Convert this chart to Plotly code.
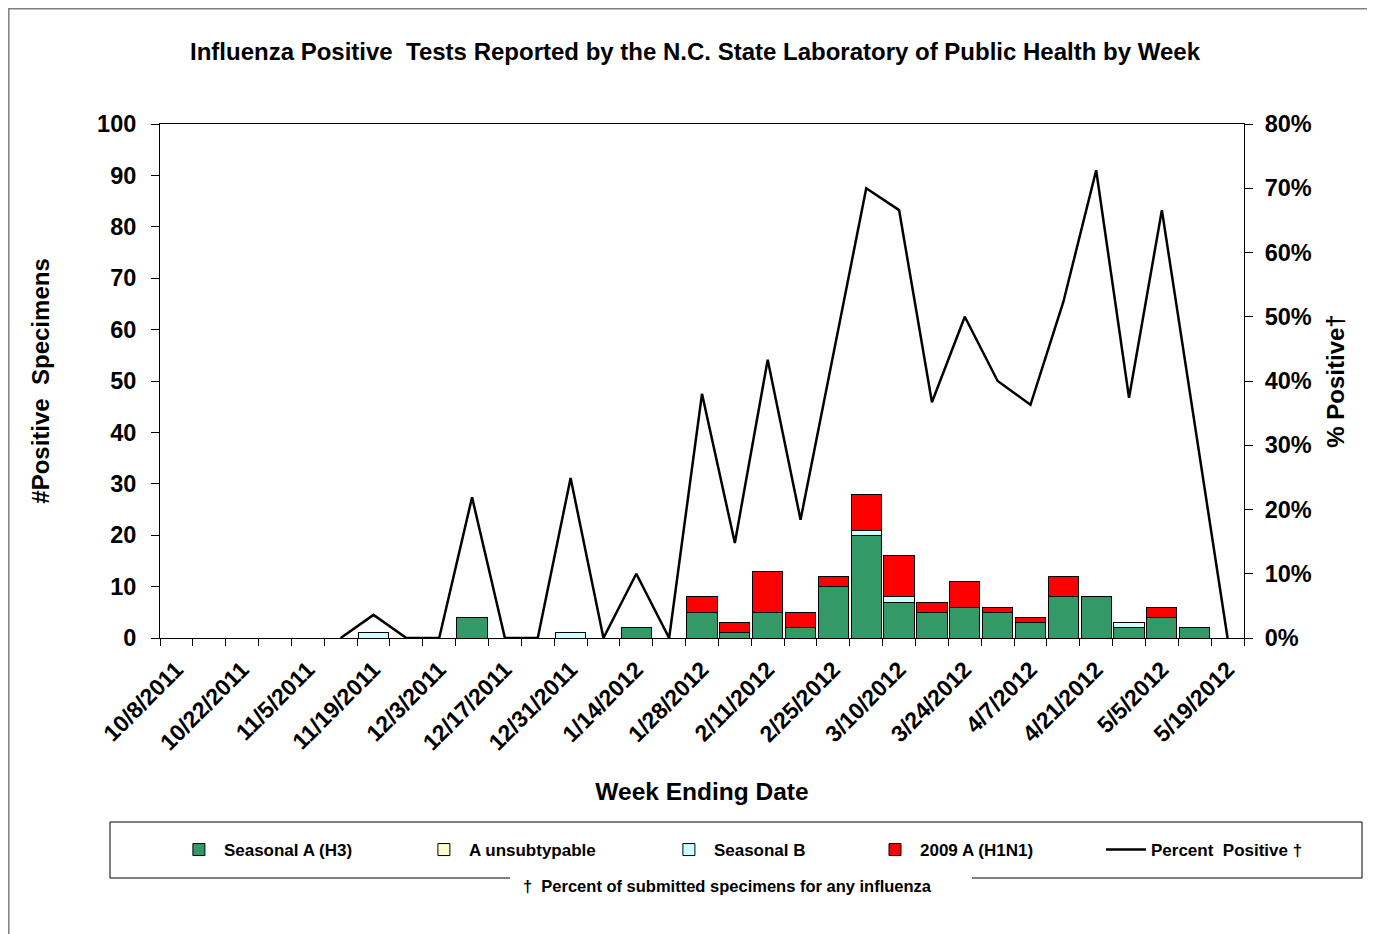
import plotly.graph_objects as go

weeks = ["10/8/2011", "10/15/2011", "10/22/2011", "10/29/2011", "11/5/2011", "11/12/2011",
         "11/19/2011", "11/26/2011", "12/3/2011", "12/10/2011", "12/17/2011", "12/24/2011",
         "12/31/2011", "1/7/2012", "1/14/2012", "1/21/2012", "1/28/2012", "2/4/2012",
         "2/11/2012", "2/18/2012", "2/25/2012", "3/3/2012", "3/10/2012", "3/17/2012",
         "3/24/2012", "3/31/2012", "4/7/2012", "4/14/2012", "4/21/2012", "4/28/2012",
         "5/5/2012", "5/12/2012", "5/19/2012"]

seasonal_a_h3 = [0, 0, 0, 0, 0, 0, 0, 0, 0, 4, 0, 0, 0, 0, 2, 0, 5, 1, 5, 2, 10, 20, 7, 5, 6, 5, 3, 8, 8, 2, 4, 2, 0]
a_unsubtypable = [0] * 33
seasonal_b = [0, 0, 0, 0, 0, 0, 1, 0, 0, 0, 0, 0, 1, 0, 0, 0, 0, 0, 0, 0, 0, 1, 1, 0, 0, 0, 0, 0, 0, 1, 0, 0, 0]
h1n1_2009 = [0, 0, 0, 0, 0, 0, 0, 0, 0, 0, 0, 0, 0, 0, 0, 0, 3, 2, 8, 3, 2, 7, 8, 2, 5, 1, 1, 4, 0, 0, 2, 0, 0]
pct_positive = [None, None, None, None, None, 0, 3.6, 0, 0, 21.9, 0, 0, 24.9, 0, 10.0, 0, 38.0, 14.8,
                43.3, 18.4, 44.0, 70.0, 66.6, 36.7, 50.0, 40.0, 36.3, 52.3, 72.8, 37.4, 66.6, 33.0, 0]

xi = list(range(len(weeks)))
FONT = "Liberation Sans, Arial, sans-serif"

fig = go.Figure()
bar_series = [
    ("Seasonal A (H3)", seasonal_a_h3, "#339966", "legend"),
    ("A unsubtypable", a_unsubtypable, "#FFFFCC", "legend"),
    ("Seasonal B", seasonal_b, "#CCFFFF", "legend"),
    ("2009 A (H1N1)", h1n1_2009, "#FF0000", "legend2"),
]
for name, vals, col, leg in bar_series:
    fig.add_trace(go.Bar(x=xi, y=vals, name=name, marker=dict(color=col, line=dict(color="black", width=1)),
                         yaxis="y", legend=leg))
fig.add_trace(go.Scatter(x=xi, y=pct_positive, name="Percent  Positive †", mode="lines",
                         line=dict(color="black", width=2.5), yaxis="y2", legend="legend2"))

W, H = 1375, 934
OFF = 8  # page body margin offset
# plot area in page pixels
L, R, T, B = 160, 1244, 124, 638
def px(x):
    return (x - L) / (R - L)
def py(y):
    return (B - y) / (B - T)

shapes = [
    dict(type="rect", xref="paper", yref="paper", x0=px(8.8), x1=px(1372), y0=py(945), y1=py(8.8),
         line=dict(color="#808080", width=1.5)),
    dict(type="line", xref="paper", yref="paper", x0=px(110), x1=px(1362), y0=py(822), y1=py(822), line=dict(color="black", width=1)),
    dict(type="line", xref="paper", yref="paper", x0=px(110), x1=px(110), y0=py(822), y1=py(878), line=dict(color="black", width=1)),
    dict(type="line", xref="paper", yref="paper", x0=px(1362), x1=px(1362), y0=py(822), y1=py(878), line=dict(color="black", width=1)),
    dict(type="line", xref="paper", yref="paper", x0=px(110), x1=px(510), y0=py(878), y1=py(878), line=dict(color="black", width=1)),
    dict(type="line", xref="paper", yref="paper", x0=px(972), x1=px(1362), y0=py(878), y1=py(878), line=dict(color="black", width=1)),
]

annotations = [
    dict(text="†  Percent of submitted specimens for any influenza", xref="paper", yref="paper",
         x=px(727), y=py(886), showarrow=False, xanchor="center", yanchor="middle",
         font=dict(family=FONT, size=16.5, color="black", weight="bold")),
]

legend_font = dict(family=FONT, size=17, color="black", weight="bold")

fig.update_layout(
    width=W, height=H,
    margin=dict(l=L - OFF, r=W - (R - OFF), t=T - OFF, b=H - (B - OFF)),
    paper_bgcolor="white", plot_bgcolor="white",
    barmode="stack", bargap=0.08,
    title=dict(text="Influenza Positive  Tests Reported by the N.C. State Laboratory of Public Health by Week",
               x=(695 - OFF) / W, xanchor="center", y=1 - (52 - OFF) / H, yanchor="middle",
               font=dict(family=FONT, size=24, color="black", weight="bold")),
    xaxis=dict(range=[-0.5, len(weeks) - 0.5], tickmode="array", tickvals=xi[::2], ticktext=weeks[::2],
               tickangle=-45, ticks="", showgrid=False, zeroline=False, showline=True, linecolor="black",
               linewidth=1, mirror=True, ticklabelstandoff=8,
               minor=dict(tickmode="array", tickvals=[i - 0.5 for i in range(len(weeks) + 1)], ticks="outside",
                          ticklen=7, tickcolor="black", tickwidth=1, showgrid=False),
               tickfont=dict(family=FONT, size=23, color="black", weight="bold"),
               title=dict(text="Week Ending Date", standoff=28,
                          font=dict(family=FONT, size=24.5, color="black", weight="bold"))),
    yaxis=dict(range=[0, 100], dtick=10, ticks="outside", ticklen=8, tickcolor="black", showgrid=False,
               zeroline=False, showline=True, linecolor="black", linewidth=1, ticklabelstandoff=10,
               tickfont=dict(family=FONT, size=23.5, color="black", weight="bold"),
               title=dict(text="#Positive  Specimens", standoff=40,
                          font=dict(family=FONT, size=24, color="black", weight="bold"))),
    yaxis2=dict(range=[0, 80], dtick=10, ticksuffix="%", overlaying="y", side="right", ticks="outside",
                ticklen=8, tickcolor="black", showgrid=False, zeroline=False, showline=True, linecolor="black",
                linewidth=1, ticklabelstandoff=7, tickfont=dict(family=FONT, size=23.5, color="black", weight="bold"),
                title=dict(text="% Positive†", standoff=16,
                           font=dict(family=FONT, size=24, color="black", weight="bold"))),
    legend=dict(orientation="h", x=-0.0001, xanchor="left", y=py(850), yanchor="middle",
                entrywidth=176, entrywidthmode="pixels", itemwidth=40, indentation=14, traceorder="normal",
                bgcolor="rgba(0,0,0,0)", font=legend_font),
    legend2=dict(orientation="h", x=px(856), xanchor="left", y=py(850), yanchor="middle",
                 entrywidth=162, entrywidthmode="pixels", itemwidth=40, indentation=14, traceorder="normal",
                 bgcolor="rgba(0,0,0,0)", font=legend_font),
    shapes=shapes, annotations=annotations,
    showlegend=True,
)

fig.write_html("out.html")
